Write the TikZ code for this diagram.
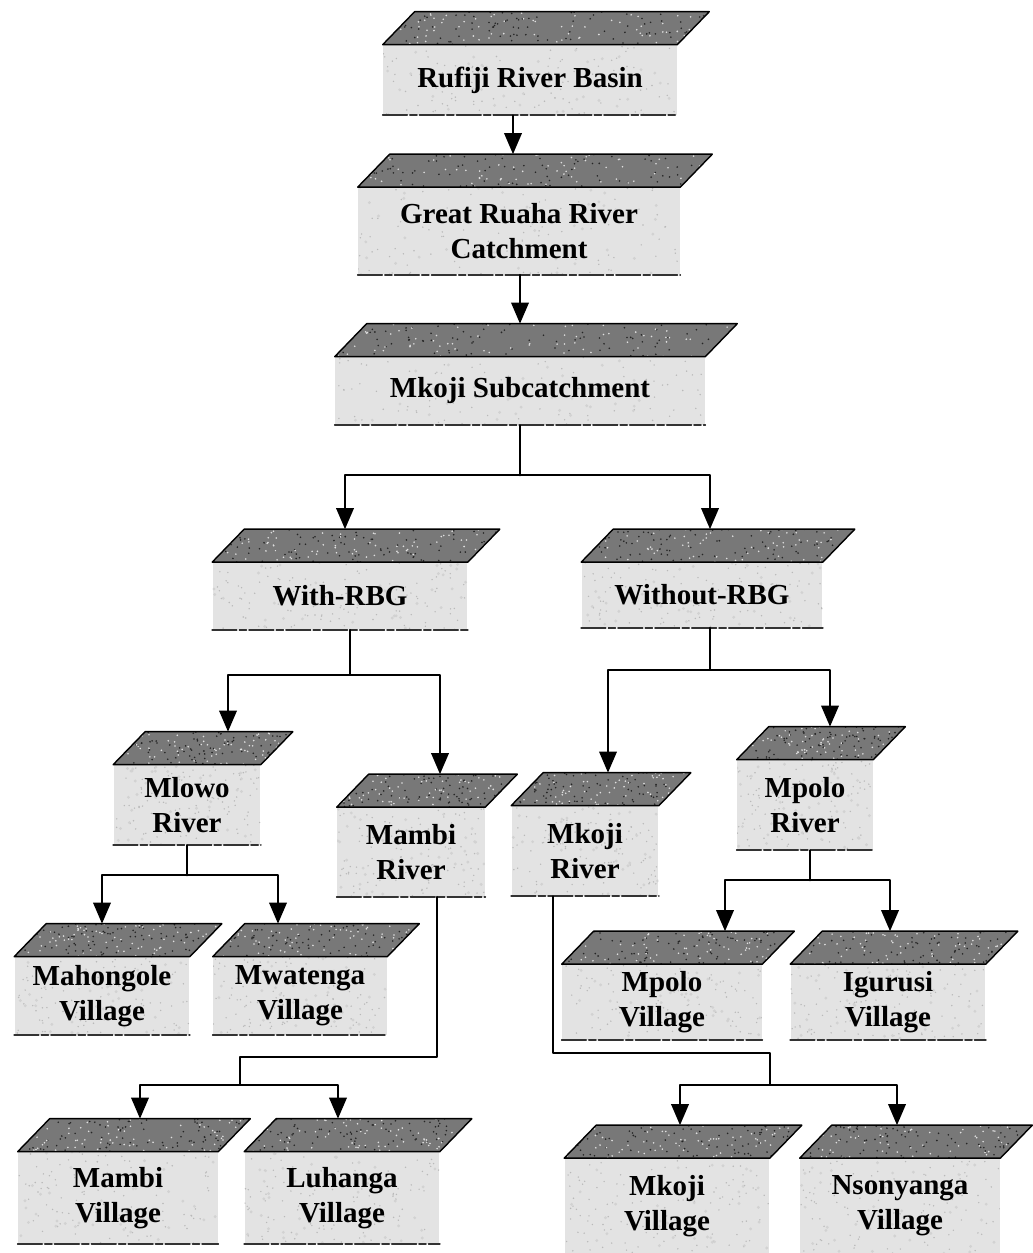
\documentclass[tikz,border=0pt]{standalone}
\usepackage{fontspec}
\setmainfont{Liberation Serif}
\usepackage{tikz}
\usetikzlibrary{arrows.meta}
\usetikzlibrary{calc}

\definecolor{frontgray}{gray}{0.89}
\definecolor{roofgray}{gray}{0.47}

\newcommand{\speckle}[3]{% count, colour, radius
  \foreach \k in {1,...,#1}{
    \pgfmathsetmacro\u{rnd}\pgfmathsetmacro\v{rnd}
    \fill[#2] ($($(path picture bounding box.south west)!\u!(path picture bounding box.south east)$)!\v!($(path picture bounding box.north west)!\u!(path picture bounding box.north east)$)$) circle (#3);
  }}

\tikzset{
  front/.style={fill=frontgray, inner sep=2pt, align=center,
    font=\bfseries\fontsize{16.5}{20}\selectfont,
    path picture={\speckle{110}{gray!55}{0.8}\speckle{40}{gray!35}{1.6}}},
  roof/.style={fill=roofgray, draw=black, line width=0.8pt, line join=round,
    path picture={\speckle{90}{black!85}{0.9}\speckle{70}{gray!25}{0.9}}},
  base/.style={draw=black!80, line width=1pt, dash pattern=on 14pt off 1.5pt on 4pt off 1.5pt},
  wire/.style={line width=1.1pt},
  link/.style={line width=1.1pt, -{Triangle[width=10pt,length=12pt]}}
}

\begin{document}
\begin{tikzpicture}[line cap=round,line join=round,x=0.02cm,y=-0.02cm]
\pgfmathsetseed{11}
\useasboundingbox (0,0) rectangle (1032,1253);
% boxes (front faces)
\node[front, minimum width=5.88cm, minimum height=1.4cm] (rufiji) at (530,80) {Rufiji River Basin};
\node[front, minimum width=6.44cm, minimum height=1.74cm] (ruaha) at (519,231) {Great Ruaha River\\Catchment};
\node[front, minimum width=7.4cm, minimum height=1.36cm] (sub) at (520,391) {Mkoji Subcatchment};
\node[front, minimum width=5.1cm, minimum height=1.34cm] (with) at (340,596) {With-RBG};
\node[front, minimum width=4.82cm, minimum height=1.3cm] (without) at (702,595) {Without-RBG};
\node[front, minimum width=2.94cm, minimum height=1.6cm] (mlowo) at (187,805) {Mlowo\\River};
\node[front, minimum width=2.96cm, minimum height=1.78cm] (mambiR) at (411,852) {Mambi\\River};
\node[front, minimum width=2.94cm, minimum height=1.8cm] (mkojiR) at (585,851) {Mkoji\\River};
\node[front, minimum width=2.72cm, minimum height=1.8cm] (mpoloR) at (805,805) {Mpolo\\River};
\node[front, minimum width=3.5cm, minimum height=1.56cm] (mahong) at (102,996) {Mahongole\\Village};
\node[front, minimum width=3.48cm, minimum height=1.56cm] (mwat) at (300,996) {Mwatenga\\Village};
\node[front, minimum width=4.0cm, minimum height=1.5cm] (mpoloV) at (662,1002) {Mpolo\\Village};
\node[front, minimum width=3.9cm, minimum height=1.5cm] (igur) at (888,1002) {Igurusi\\Village};
\node[front, minimum width=4.0cm, minimum height=1.84cm] (mambiV) at (118,1198) {Mambi\\Village};
\node[front, minimum width=3.9cm, minimum height=1.84cm] (luhanga) at (342,1198) {Luhanga\\Village};
\node[front, minimum width=4.1cm, minimum height=1.9cm] (mkojiV) at (667,1206) {Mkoji\\Village};
\node[front, minimum width=4.0cm, minimum height=1.9cm] (nsony) at (900,1206) {Nsonyanga\\Village};

% roofs and arrow entry points
\foreach \n/\s in {rufiji/0, ruaha/-6, sub/0, with/5, without/8, mlowo/41, mambiR/29,
    mkojiR/23, mpoloR/25, mahong/0, mwat/-22, mpoloV/63, igur/2, mambiV/22,
    luhanga/-4, mkojiV/13, nsony/-3}{
  \draw[roof] (\n.north west) -- ++(32,-33) -- ($(\n.north east)+(32,-33)$) -- (\n.north east) -- cycle;
  \draw[base] (\n.south west) -- (\n.south east);
  \coordinate (\n-in) at ($(\n.north)+(\s,-33)$);
}

% connectors
\draw[link] (ruaha-in |- rufiji.south) -- (ruaha-in);
\draw[link] (sub-in |- ruaha.south) -- (sub-in);

\draw[wire] (sub.south) -- ++(0,50) coordinate (b1);
\draw[link] (b1) -| (with-in);
\draw[link] (b1) -| (without-in);

\draw[wire] ($(with.south)+(10,0)$) -- ++(0,45) coordinate (b2);
\draw[link] (b2) -| (mlowo-in);
\draw[link] (b2) -| (mambiR-in);

\draw[wire] ($(without.south)+(8,0)$) -- ++(0,42) coordinate (b3);
\draw[link] (b3) -| (mkojiR-in);
\draw[link] (b3) -| (mpoloR-in);

\draw[wire] (mlowo.south) -- ++(0,30) coordinate (b4);
\draw[link] (b4) -| (mahong-in);
\draw[link] (b4) -| (mwat-in);

\coordinate (b5) at (240,1085);
\draw[wire] ($(mambiR.south)+(26,0)$) |- ($(b5)+(0,-28)$) -- (b5);
\draw[link] (b5) -| (mambiV-in);
\draw[link] (b5) -| (luhanga-in);

\coordinate (b6) at (770,1085);
\draw[wire] ($(mkojiR.south)+(-32,0)$) |- ($(b6)+(0,-32)$) -- (b6);
\draw[link] (b6) -| (mkojiV-in);
\draw[link] (b6) -| (nsony-in);

\draw[wire] ($(mpoloR.south)+(5,0)$) -- ++(0,30) coordinate (b7);
\draw[link] (b7) -| (mpoloV-in);
\draw[link] (b7) -| (igur-in);
\end{tikzpicture}
\end{document}
